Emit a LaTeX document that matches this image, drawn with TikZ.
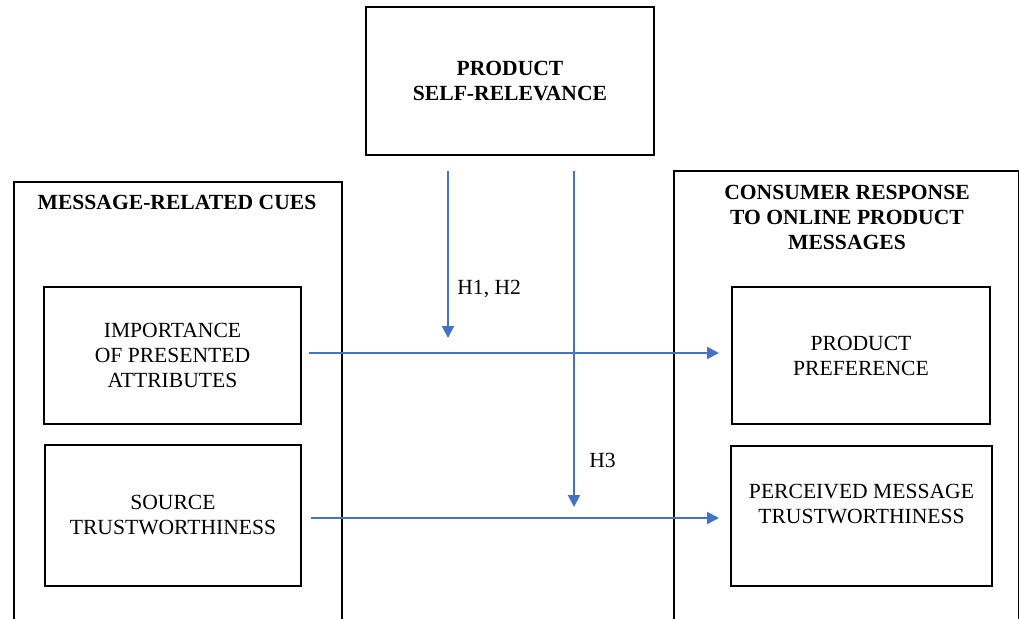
\documentclass[tikz,border=0pt]{standalone}
\usepackage{fontspec}
\setmainfont{Liberation Serif}
\usetikzlibrary{arrows.meta, positioning}
\definecolor{arrowblue}{HTML}{4472C4}
\tikzset{
  box/.style={draw, line width=1pt, align=center, inner sep=0pt},
  title/.style={align=center, font=\fontsize{10.8}{12.5}\selectfont\bfseries},
  link/.style={color=arrowblue, line width=1pt, -{Triangle[length=6pt,width=6pt]}},
  hyp/.style={anchor=west, inner sep=0pt}
}
\begin{document}
\begin{tikzpicture}[x=0.5pt, y=-0.5pt, font=\fontsize{10.8}{12.5}\selectfont]
            \useasboundingbox (0,0) rectangle (1019,618);
            \clip (0,0) rectangle (1019,618);
            % outer frames, open at the bottom edge
            \draw (13,181) node[box, anchor=north west, minimum width=164pt, minimum height=230pt] (cues) {};
            \draw (673,170) node[box, anchor=north west, minimum width=172.5pt, minimum height=235pt] (resp) {};
            \draw (177,202) node[title] (cuestitle) {MESSAGE-RELATED CUES};
            \draw (847,217) node[title] (resptitle) {CONSUMER RESPONSE\\TO ONLINE PRODUCT\\MESSAGES};
            % boxes
            \draw (510,81) node[box, font=\fontsize{10.8}{12.5}\selectfont\bfseries, minimum width=144pt, minimum height=74pt] (rel) {PRODUCT\\SELF-RELEVANCE};
            \draw (172.5,355.5) node[box, minimum width=128.5pt, minimum height=68.5pt] (imp) {IMPORTANCE\\OF PRESENTED\\ATTRIBUTES};
            \draw (173,515.5) node[box, minimum width=128pt, minimum height=70.5pt] (src) {SOURCE\\TRUSTWORTHINESS};
            \draw (861,355.5) node[box, minimum width=129pt, minimum height=68.5pt] (pref) {PRODUCT\\PREFERENCE};
            \draw (861.5,516) node[box, minimum width=130.5pt, minimum height=70pt] (trust) {PERCEIVED MESSAGE\\TRUSTWORTHINESS\\~};
            \coordinate (m1) at (448,353);
            \coordinate (m2) at (574,518);
            \draw (457,289) node[hyp] (h12) {H1, H2};
            \draw (589,460) node[hyp] (h3) {H3};
            \path[link]
            (imp.east |- m1) edge[shorten <=3.5pt, shorten >=6pt] (pref.west |- m1)
            (src.east |- m2) edge[shorten <=4.5pt, shorten >=5.5pt] (trust.west |- m2)
            (rel.south -| m1) edge[shorten <=7.5pt, shorten >=7.5pt] (m1)
            (rel.south -| m2) edge[shorten <=7.5pt, shorten >=5.5pt] (m2);
        \end{tikzpicture}
\end{document}
